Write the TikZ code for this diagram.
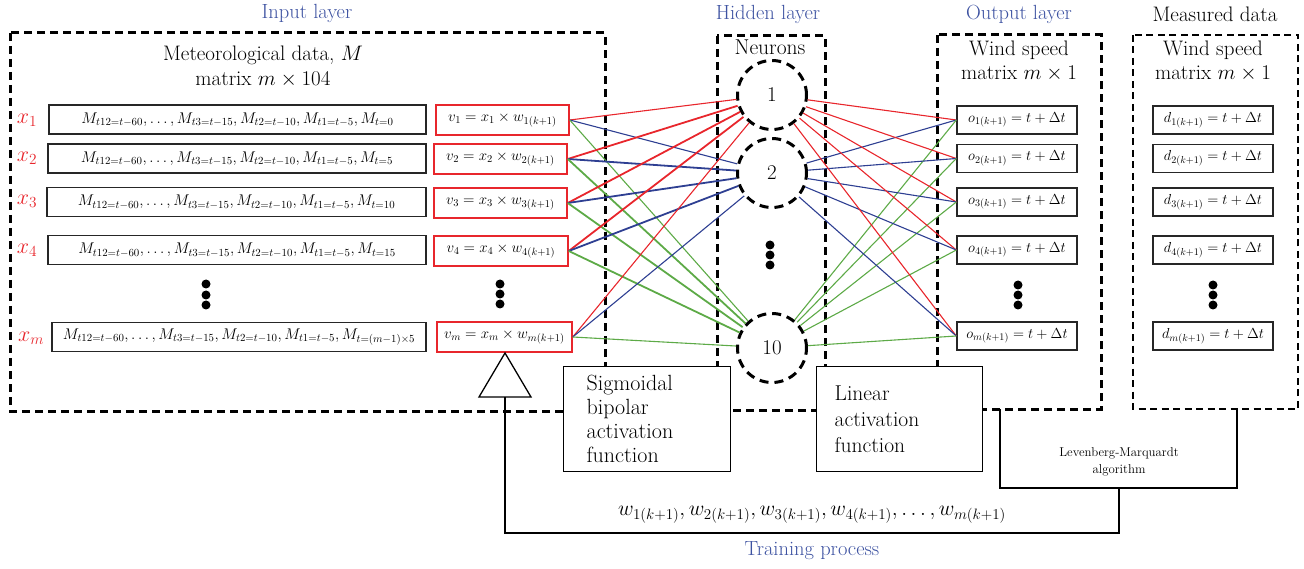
\documentclass[tikz,border=0pt]{standalone}
\usepackage{fix-cm}
\definecolor{cred}{HTML}{E8262C}
\definecolor{cblue}{HTML}{2E3F92}
\definecolor{cgreen}{HTML}{5DAA47}
\definecolor{ctitle}{HTML}{3D52A1}
\tikzset{
 frame/.style={line width=3pt, dash pattern=on 8pt off 5pt},
 mframe/.style={line width=1.4pt, dash pattern=on 7pt off 4.5pt},
 mbox/.style={draw=black!85, line width=1.3pt, inner sep=0pt, minimum height=29pt, font=\fontsize{15.5}{18}\selectfont},
 vbox/.style={draw=cred, line width=1.5pt, inner sep=0pt, minimum height=30pt, font=\fontsize{15}{18}\selectfont},
 obox/.style={draw=black!85, line width=1.4pt, inner sep=0pt, minimum width=120pt, minimum height=28pt, font=\fontsize{14.5}{18}\selectfont},
 neuron/.style={circle, draw, line width=3pt, dash pattern=on 9pt off 6pt, minimum size=69pt, inner sep=0pt, fill=white, font=\fontsize{21}{24}\selectfont},
 title/.style={text=ctitle, font=\fontsize{20.5}{24}\selectfont},
 lbl/.style={align=center, font=\fontsize{21}{24}\selectfont},
 xlbl/.style={text=cred, font=\fontsize{22}{24}\selectfont},
 fbox/.style={draw, line width=1.3pt, fill=white, align=left, anchor=north west, inner ysep=0pt},
 vdot/.style={circle, fill=black, inner sep=0pt, minimum size=9pt},
 plain/.style={line width=1.3pt},
}
\begin{document}
\begin{tikzpicture}[x=1pt,y=-1pt]
\useasboundingbox (0,0) rectangle (1304,569);
% titles
\node[title] (tin) at (307,13) {Input layer};
\node[title] (thid) at (768,14) {Hidden layer};
\node[title] (tout) at (1019,14) {Output layer};
\node[font=\fontsize{21}{24}\selectfont] (tmeas) at (1215,14) {Measured data};
% frames
\draw[frame] (10,33) rectangle (605,411);
\draw[frame] (717,36) rectangle (825,410);
\draw[frame] (937,35) rectangle (1101,409);
\draw[mframe] (1133,35) rectangle (1298,409);
% frame headings
\node[lbl, font=\fontsize{21}{25}\selectfont] (met) at (263,67) {Meteorological data, $M$\\matrix $m\times 104$};
\node[lbl, font=\fontsize{21.5}{24}\selectfont] (neu) at (770,47) {Neurons};
\node[lbl] (ws) at (1019,61) {Wind speed\\matrix $m\times 1$};
\node[lbl] (wsm) at (1213,61) {Wind speed\\matrix $m\times 1$};
% input rows
\node[xlbl] (x1) at (27,120) {$x_1$};
\node[xlbl] (x2) at (27,158) {$x_2$};
\node[xlbl] (x3) at (27,201) {$x_3$};
\node[xlbl] (x4) at (27,250) {$x_4$};
\node[xlbl] (xm) at (31,338) {$x_m$};
\node[mbox, minimum width=377pt] (m1) at (237.5,119.5) {$M_{t12=t-60},\ldots,M_{t3=t-15},M_{t2=t-10},M_{t1=t-5},M_{t=0}$};
\node[mbox, minimum width=378pt] (m2) at (237,158.5) {$M_{t12=t-60},\ldots,M_{t3=t-15},M_{t2=t-10},M_{t1=t-5},M_{t=5}$};
\node[mbox, minimum width=379pt] (m3) at (236.5,202) {$M_{t12=t-60},\ldots,M_{t3=t-15},M_{t2=t-10},M_{t1=t-5},M_{t=10}$};
\node[mbox, minimum width=378pt] (m4) at (237,250) {$M_{t12=t-60},\ldots,M_{t3=t-15},M_{t2=t-10},M_{t1=t-5},M_{t=15}$};
\node[mbox, minimum width=374pt] (mm) at (239,337) {$M_{t12=t-60},\ldots,M_{t3=t-15},M_{t2=t-10},M_{t1=t-5},M_{t=(m-1)\times 5}$};
\node[vdot] (dm1) at (206,284) {};
\node[vdot] (dm2) at (206,295) {};
\node[vdot] (dm3) at (206,305) {};
% v boxes
\node[vbox, minimum width=133pt] (v1) at (502.5,120) {$v_1 = x_1\times w_{1(k+1)}$};
\node[vbox, minimum width=133pt] (v2) at (500.5,159) {$v_2 = x_2\times w_{2(k+1)}$};
\node[vbox, minimum width=133pt] (v3) at (500.5,203) {$v_3 = x_3\times w_{3(k+1)}$};
\node[vbox, minimum width=134pt] (v4) at (501,251) {$v_4 = x_4\times w_{4(k+1)}$};
\node[vbox, minimum width=135pt] (vm) at (504.5,337) {$v_m = x_m\times w_{m(k+1)}$};
\node[vdot] (dv1) at (500,284) {};
\node[vdot] (dv2) at (500,294) {};
\node[vdot] (dv3) at (500,304) {};
% neurons
\node[neuron] (n1) at (772,95) {1};
\node[neuron] (n2) at (772,173) {2};
\node[neuron] (n10) at (772,348) {10};
\node[vdot] (dn1) at (770,245) {};
\node[vdot] (dn2) at (770,255) {};
\node[vdot] (dn3) at (770,265) {};
% output boxes
\node[obox] (o1) at (1017,120) {$o_{1(k+1)} = t+\Delta t$};
\node[obox] (o2) at (1017,158.5) {$o_{2(k+1)} = t+\Delta t$};
\node[obox] (o3) at (1017,202) {$o_{3(k+1)} = t+\Delta t$};
\node[obox] (o4) at (1017,250) {$o_{4(k+1)} = t+\Delta t$};
\node[obox] (om) at (1017,336) {$o_{m(k+1)} = t+\Delta t$};
\node[vdot] (do1) at (1018,285) {};
\node[vdot] (do2) at (1018,295) {};
\node[vdot] (do3) at (1018,305) {};
% measured boxes
\node[obox] (d1) at (1213,120) {$d_{1(k+1)} = t+\Delta t$};
\node[obox] (d2) at (1213,158.5) {$d_{2(k+1)} = t+\Delta t$};
\node[obox] (d3) at (1213,202) {$d_{3(k+1)} = t+\Delta t$};
\node[obox] (d4) at (1213,250) {$d_{4(k+1)} = t+\Delta t$};
\node[obox] (dm) at (1213,336) {$d_{m(k+1)} = t+\Delta t$};
\node[vdot] (dd1) at (1213,285) {};
\node[vdot] (dd2) at (1213,295) {};
\node[vdot] (dd3) at (1213,305) {};
% connectors input -> hidden
\foreach \v/\w in {v1/1.1,v2/1.8,v3/1.8,v4/1.8,vm/1.1} {
  \draw[cred, line width=\w pt] (\v.east) -- (n1);
  \draw[cblue, line width=\w pt] (\v.east) -- (n2);
  \draw[cgreen, line width=\w pt] (\v.east) -- (n10);
}
% connectors hidden -> output
\foreach \o in {o1,o2,o3,o4,om} {
  \draw[cred, line width=1.1pt] (n1) -- (\o.west);
  \draw[cblue, line width=1.1pt] (n2) -- (\o.west);
  \draw[cgreen, line width=1.1pt] (n10) -- (\o.west);
}
% activation boxes
\node[fbox, minimum width=167pt, minimum height=105pt, text width=121pt, inner xsep=23pt, font=\fontsize{22}{24}\selectfont] (sig) at (563,366) {Sigmoidal\\bipolar\\activation\\function};
\node[fbox, minimum width=166pt, minimum height=105pt, text width=130pt, inner xsep=18pt, font=\fontsize{21.5}{26}\selectfont] (lin) at (816,366) {Linear\\activation\\function};
% Levenberg-Marquardt
\draw[plain] (1000,409) -- (1000,488) -- (1237,488) -- (1237,409);
\node[align=center, font=\fontsize{12.8}{17}\selectfont] (lm) at (1119,462) {Levenberg-Marquardt\\algorithm};
\coordinate (lmb) at (1119,488);
% triangle and feedback
\draw[plain, fill=white] (505,353) -- (479,397) -- (531,397) -- cycle;
\coordinate (tb) at (505,397);
\draw[plain] (lmb) -- (lmb |- 0,533) -| (tb);
\node[font=\fontsize{21.5}{24}\selectfont] (wts) at (812,515) {$w_{1(k+1)},w_{2(k+1)},w_{3(k+1)},w_{4(k+1)},\ldots,w_{m(k+1)}$};
\node[title] (tp) at (812,551) {Training process};
\end{tikzpicture}
\end{document}
